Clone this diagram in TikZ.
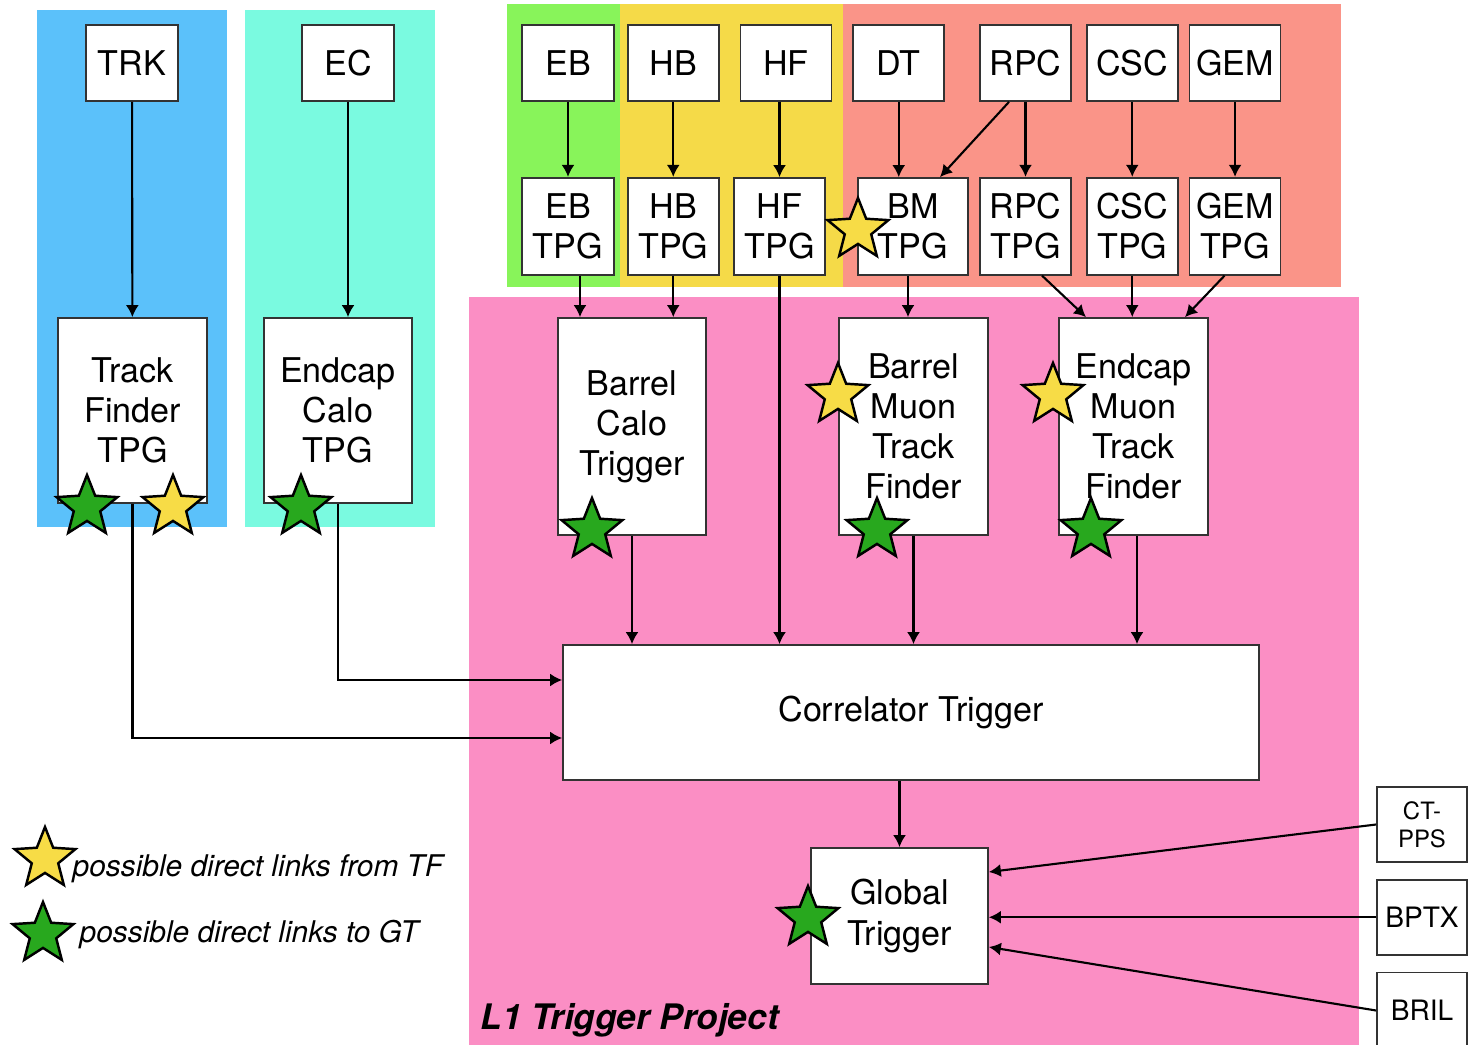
\documentclass[tikz,border=0pt]{standalone}
\usepackage{fontspec}
\setmainfont{TeX Gyre Heros}
\usepackage{tikz}
\usetikzlibrary{shapes.geometric}
\usetikzlibrary{arrows.meta}
\usetikzlibrary{calc}
\usetikzlibrary{positioning}
\usepackage{xcolor}
\definecolor{trkblue}{HTML}{5BC1FA}
\definecolor{eccyan}{HTML}{7AFAE0}
\definecolor{ebgreen}{HTML}{88F45A}
\definecolor{hcalyellow}{HTML}{F5DA48}
\definecolor{musalmon}{HTML}{FA9488}
\definecolor{l1pink}{HTML}{FB8EC4}
\definecolor{boxgray}{HTML}{333333}
\definecolor{staryellow}{HTML}{F7DC46}
\definecolor{stargreen}{HTML}{28A81E}
\newcommand{\boxfnt}{\fontsize{9.7}{11.4}\selectfont}
\tikzset{every text node part/.style={align=center}}
\tikzstyle{box} = [draw=boxgray, fill=white, line width=0.5pt, inner sep=0pt, font=\boxfnt]
\tikzstyle{ln} = [draw, line width=0.6pt, -{Latex[length=1.2mm,width=1.3mm]}]
\tikzstyle{linkstar} = [star, star points=5, star point ratio=2.3, draw=black, line width=0.7pt, minimum size=0.64cm, inner sep=0pt]

\begin{document}
\begin{tikzpicture}[det/.style={box, minimum width=0.92cm, minimum height=0.76cm},
    tpg/.style={box, minimum width=0.92cm, minimum height=0.97cm},
    big/.style={box, minimum width=1.49cm, minimum height=2.17cm},
    side/.style={box, minimum width=0.90cm, minimum height=0.75cm, font=\fontsize{8}{9.5}\selectfont}]
    \useasboundingbox (0,0) rectangle (14.71,-10.45);

    % Backgrounds
    \fill[trkblue] (0.37,-0.10) rectangle (2.27,-5.27);
    \fill[eccyan] (2.45,-0.10) rectangle (4.35,-5.27);
    \fill[ebgreen] (5.07,-0.04) rectangle (6.20,-2.87);
    \fill[hcalyellow] (6.20,-0.04) rectangle (8.43,-2.87);
    \fill[musalmon] (8.43,-0.04) rectangle (13.41,-2.87);
    \fill[l1pink] (4.69,-2.97) rectangle (13.59,-10.45);

    % Nodes
    \node[det] (trk) at (1.32,-0.63) {TRK};
    \node[det] (ec) at (3.48,-0.63) {EC};
    \node[det] (eb) at (5.68,-0.63) {EB};
    \node[det, right=0.12cm of eb, minimum width=0.91cm] (hb) {HB};
    \node[det, right=0.20cm of hb, minimum width=0.91cm] (hf) {HF};
    \node[det, right=0.20cm of hf, minimum width=0.91cm] (dt) {DT};
    \node[det, right=0.34cm of dt, minimum width=0.91cm] (rpc) {RPC};
    \node[det, right=0.14cm of rpc, minimum width=0.91cm] (csc) {CSC};
    \node[det, right=0.10cm of csc, minimum width=0.91cm] (gem) {GEM};

    \node[tpg, below=0.75cm of eb] (ebtpg) {EB\\TPG};
    \node[tpg, below=0.75cm of hb, minimum width=0.91cm] (hbtpg) {HB\\TPG};
    \node[tpg, minimum width=0.91cm] (hftpg) at (7.795,-2.265) {HF\\TPG};
    \node[tpg, minimum width=1.10cm] (bmtpg) at (9.13,-2.265) {BM\\TPG};
    \node[tpg, below=0.75cm of rpc, minimum width=0.91cm] (rpctpg) {RPC\\TPG};
    \node[tpg, below=0.75cm of csc, minimum width=0.91cm] (csctpg) {CSC\\TPG};
    \node[tpg, below=0.75cm of gem, minimum width=0.91cm] (gemtpg) {GEM\\TPG};

    \node[big, minimum height=1.85cm] (trackf) at (1.325,-4.105) {Track\\Finder\\TPG};
    \node[big, minimum width=1.48cm, minimum height=1.85cm] (endcalo) at (3.38,-4.105) {Endcap\\Calo\\TPG};
    \node[big, minimum width=1.48cm] (barcalo) at (6.32,-4.265) {Barrel\\Calo\\Trigger};
    \node[big] (barmu) at (9.135,-4.265) {Barrel\\Muon\\Track\\Finder};
    \node[big] (endmu) at (11.335,-4.265) {Endcap\\Muon\\Track\\Finder};

    \node[box, minimum width=6.96cm, minimum height=1.35cm] (corr) at (9.11,-7.125) {Correlator Trigger};
    \node[box, minimum width=1.77cm, minimum height=1.36cm] (gt) at (8.995,-9.16) {Global\\Trigger};

    \node[side, font=\fontsize{6.8}{8}\selectfont] (ctpps) at (14.22,-8.245) {CT-\\PPS};
    \node[side, below=0.16cm of ctpps] (bptx) {BPTX};
    \node[side, below=0.16cm of bptx, minimum height=0.76cm] (bril) {BRIL};

    % Paths
    \draw[ln] (trk) -- (trackf);
    \draw[ln] (ec) -- (ec |- endcalo.north);
    \draw[ln] (eb) -- (ebtpg);
    \draw[ln] (hb) -- (hbtpg);
    \draw[ln] (hf.south -| hftpg) -- (hftpg);
    \draw[ln] (dt) -- (dt |- bmtpg.north);
    \draw[ln] ([xshift=-0.165cm]rpc.south) -- ([xshift=0.27cm]bmtpg.north);
    \draw[ln] (rpc) -- (rpctpg);
    \draw[ln] (csc) -- (csctpg);
    \draw[ln] (gem) -- (gemtpg);

    \coordinate (ebout) at ([xshift=0.12cm]ebtpg.south);
    \coordinate (bmout) at ([xshift=-0.05cm]bmtpg.south);
    \coordinate (emout) at ([xshift=0.035cm]endmu.south);
    \draw[ln] (ebout) -- (ebout |- barcalo.north);
    \draw[ln] (hbtpg) -- (hbtpg |- barcalo.north);
    \draw[ln] (hftpg) -- (hftpg |- corr.north);
    \draw[ln] (bmout) -- (bmout |- barmu.north);
    \draw[ln] ([xshift=0.165cm]rpctpg.south) -- ([xshift=-0.475cm]endmu.north);
    \draw[ln] (csctpg) -- (csctpg |- endmu.north);
    \draw[ln] ([xshift=-0.105cm]gemtpg.south) -- ([xshift=0.515cm]endmu.north);

    \draw[ln] (barcalo) -- (barcalo |- corr.north);
    \draw[ln] (barmu) -- (barmu |- corr.north);
    \draw[ln] (emout) -- (emout |- corr.north);
    \draw[ln] (endcalo) |- ([yshift=0.325cm]corr.west);
    \draw[ln] (trackf) |- ([yshift=-0.255cm]corr.west);
    \draw[ln] (corr.south -| gt) -- (gt);
    \draw[ln] (ctpps.west) -- ([yshift=0.44cm]gt.east);
    \draw[ln] (bptx) -- (bptx -| gt.east);
    \draw[ln] (bril.west) -- ([yshift=-0.31cm]gt.east);

    % Stars
    \node[linkstar, fill=stargreen] (trkgt) at (0.87,-5.07) {};
    \node[linkstar, fill=staryellow] (trktf) at (1.73,-5.07) {};
    \node[linkstar, fill=stargreen] (ecgt) at (3.01,-5.07) {};
    \node[linkstar, fill=staryellow] (hftf) at (8.58,-2.30) {};
    \node[linkstar, fill=stargreen] (bcgt) at (5.92,-5.30) {};
    \node[linkstar, fill=staryellow] (bmtf) at (8.38,-3.95) {};
    \node[linkstar, fill=stargreen] (bmgt) at (8.77,-5.30) {};
    \node[linkstar, fill=staryellow] (emtf) at (10.53,-3.95) {};
    \node[linkstar, fill=stargreen] (emgt) at (10.91,-5.30) {};
    \node[linkstar, fill=stargreen] (gtgt) at (8.08,-9.18) {};

    % Legend
    \node[linkstar, fill=staryellow] (legtf) at (0.45,-8.59) {};
    \node[linkstar, fill=stargreen] (leggt) at (0.43,-9.34) {};
    \node[anchor=west, inner sep=0pt, font=\fontsize{8.5}{10}\selectfont\itshape] (legtftext) at (0.72,-8.69) {possible direct links from TF};
    \node[anchor=west, inner sep=0pt, font=\fontsize{8.5}{10}\selectfont\itshape] (leggttext) at (0.79,-9.35) {possible direct links to GT};

    \node[anchor=west, inner sep=0pt, font=\fontsize{10}{12}\selectfont\bfseries\itshape] (l1) at (4.80,-10.20) {L1 Trigger Project};
  \end{tikzpicture}
\end{document}
